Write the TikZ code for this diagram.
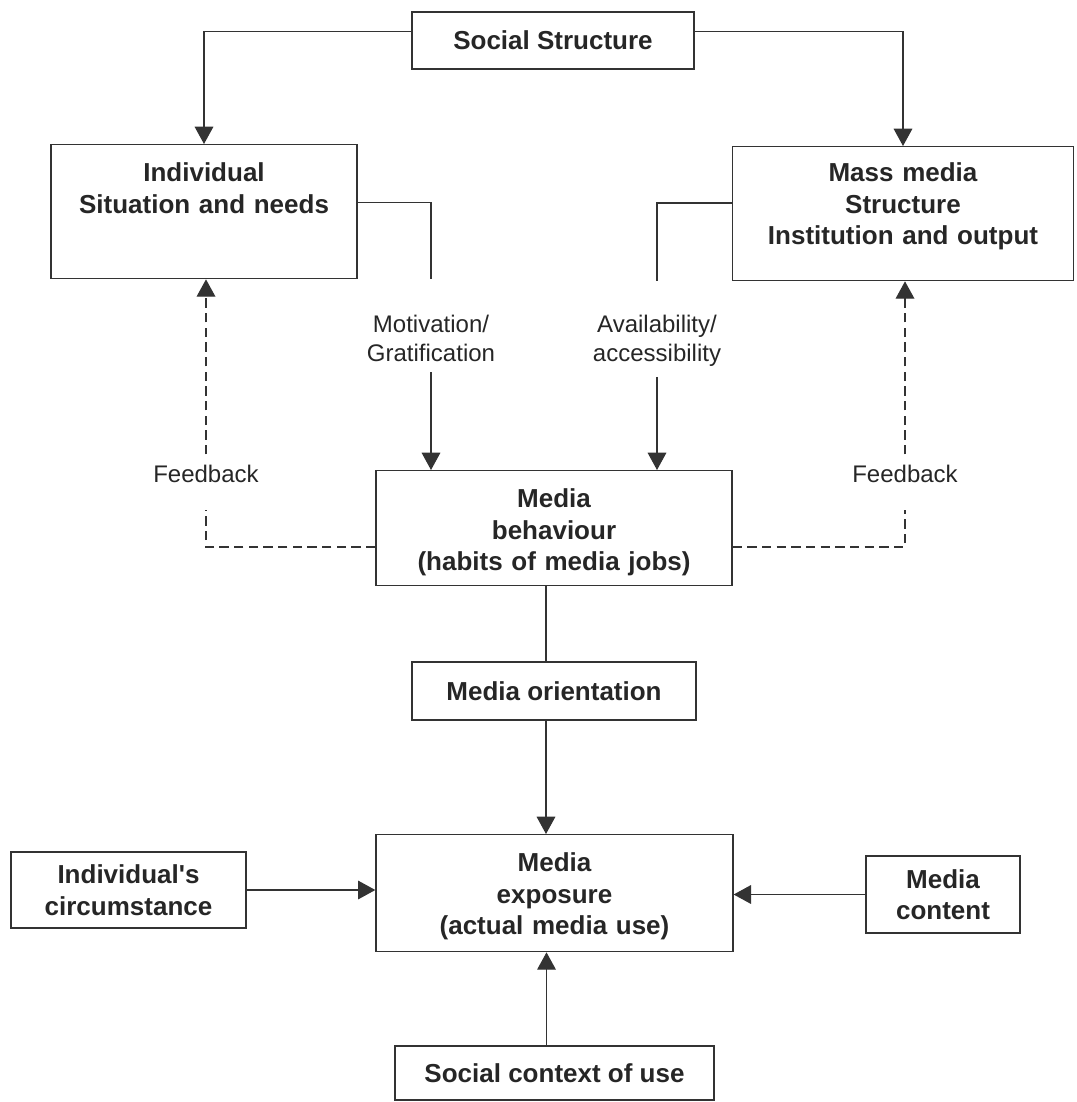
\documentclass[tikz,border=0pt]{standalone}
\usepackage{fontspec}
\setmainfont{Liberation Sans}
\usepackage{tikz}
\usetikzlibrary{arrows.meta}
\tikzset{
    box/.style={draw=black!80, line width=1pt, text=black!85, align=center,
        inner sep=0pt, font=\fontsize{19.5}{23.6}\selectfont\bfseries},
    topbox/.style={box, anchor=north},
    lbl/.style={text=black!85, align=center, inner xsep=2pt, inner ysep=7.5pt,
        font=\fontsize{18}{21.75}\selectfont},
    link/.style={draw=black!80, line width=0.9pt},
    fb/.style={link, line width=1pt, dash pattern=on 7pt off 4pt},
    tip/.style={-{Triangle[length=13pt,width=14pt]}}
}

\begin{document}
\begin{tikzpicture}[x=0.75pt, y=-0.75pt]
    \useasboundingbox (0,0) rectangle (1077,1102);

    % Boxes
    \node[box, minimum width=211.5pt, minimum height=42.75pt] (social) at (553,40.5) {Social Structure};
    \node[topbox, text width=229.5pt, text height=27.75pt, text depth=72.75pt] (indiv) at (204,144)
        {Individual\\Situation and needs};
    \node[topbox, text width=256pt, text height=26.25pt, text depth=74.25pt] (mass) at (903,146)
        {Mass media\\Structure\\Institution and output};
    \node[topbox, text width=267pt, text height=27.75pt, text depth=58.5pt] (behav) at (554,470)
        {Media\\behaviour\\(habits of media jobs)};
    \node[box, minimum width=213pt, minimum height=43.5pt] (orient) at (554,691) {Media orientation};
    \node[topbox, text width=267.75pt, text height=27.75pt, text depth=60pt] (expo) at (554.5,834)
        {Media\\exposure\\(actual media use)};
    \node[box, minimum width=176.25pt, minimum height=57pt] (circ) at (128.5,890)
        {Individual\textquotesingle s\\circumstance};
    \node[box, minimum width=115.5pt, minimum height=57.75pt] (content) at (943,894.5)
        {Media\\content};
    \node[box, minimum width=239.25pt, minimum height=40.5pt] (context) at (554.5,1073)
        {Social context of use};

    % Labels on the connectors
    \node[lbl, anchor=north] (motiv) at (431,305) {Motivation/\\Gratification};
    \node[lbl, anchor=north] (avail) at (657,305) {Availability/\\accessibility};
    \node[lbl, anchor=base, text depth=13pt] (fbl) at (206,482) {Feedback};
    \node[lbl, anchor=base, text depth=13pt] (fbr) at (905,482) {Feedback};

    % Social structure down to both sides
    \draw[link, tip] ([yshift=7pt]social.west) -| (indiv.north);
    \draw[link, tip] ([yshift=6.5pt]social.east) -| (mass.north);

    % Motivation and availability
    \draw[link] ([yshift=7pt]indiv.east) -| (indiv.south -| motiv.north);
    \draw[link, tip] (motiv.south) -- (motiv.south |- behav.north);
    \draw[link] ([yshift=8pt]mass.west) -| (mass.south -| avail.north);
    \draw[link, tip] (avail.south) -- (avail.south |- behav.north);

    % Feedback (dashed)
    \draw[fb] ([yshift=-14pt]behav.west) -| (fbl.south);
    \draw[fb, tip] (fbl.north) -- (fbl.north |- indiv.south);
    \draw[fb] ([yshift=-14pt]behav.east) -| (fbr.south);
    \draw[fb, tip] (fbr.north) -- (fbr.north |- mass.south);

    % Centre column
    \draw[link] ([xshift=-6pt]behav.south) -- ([xshift=-6pt]orient.north);
    \draw[link, tip] ([xshift=-6pt]orient.south) -- ([xshift=-6pt]orient.south |- expo.north);
    \draw[link, tip] ([xshift=-6pt]context.north) -- ([xshift=-6pt]context.north |- expo.south);

    % Side inputs
    \draw[link, tip] (circ.east) -- (circ.east -| expo.west);
    \draw[link, tip] (content.west) -- (content.west -| expo.east);
\end{tikzpicture}
\end{document}
